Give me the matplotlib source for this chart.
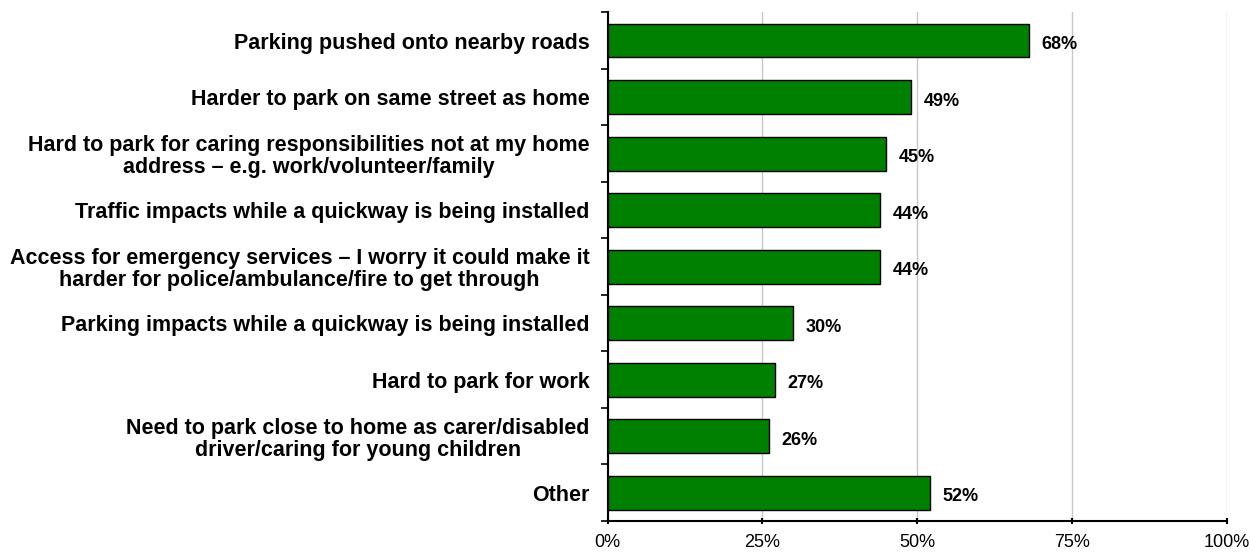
import numpy as np
import matplotlib
matplotlib.use("Agg")
import matplotlib.pyplot as plt
from matplotlib.ticker import FixedLocator, PercentFormatter

plt.rcParams["font.family"] = ["Liberation Sans", "DejaVu Sans"]

# 응답 항목 / 비율
categories = [
    "Parking pushed onto nearby roads",
    "Harder to park on same street as home",
    "Hard to park for caring responsibilities not at my home\naddress \u2013 e.g. work/volunteer/family",
    "Traffic impacts while a quickway is being installed",
    "Access for emergency services \u2013 I worry it could make it\nharder for police/ambulance/fire to get through",
    "Parking impacts while a quickway is being installed",
    "Hard to park for work",
    "Need to park close to home as carer/disabled\ndriver/caring for young children",
    "Other",
]
values = [68, 49, 45, 44, 44, 30, 27, 26, 52]
value_labels = ["68%", "49%", "45%", "44%", "44%", "30%", "27%", "26%", "52%"]
x_ticks = [0, 25, 50, 75, 100]

fig = plt.figure(figsize=(12.5, 5.57), dpi=100)
ax = fig.add_axes([0.486, 0.0646, 0.4956, 0.9134])

y = np.arange(len(categories))
ax.barh(y, values, height=0.6, color="#008000", edgecolor="black", linewidth=1.0, zorder=3)

for yi, v, lab in zip(y, values, value_labels):
    ax.text(v + 2.0, yi + 0.07, lab, va="center", ha="left",
            fontsize=13, fontweight="bold", color="black")

ax.set_xlim(0, 100)
ax.set_ylim(len(categories) - 0.5, -0.5)
ax.set_xticks(x_ticks)
ax.xaxis.set_major_formatter(PercentFormatter(decimals=0))
ax.tick_params(axis="x", labelsize=13, length=5, width=1.5, pad=7, direction="inout")

ax.set_yticks(y)
ax.set_yticklabels(categories, fontsize=15.5, fontweight="bold", ha="right",
                   multialignment="center", linespacing=1.07)
ax.tick_params(axis="y", which="major", length=0, pad=13)
ax.yaxis.set_minor_locator(FixedLocator(np.arange(-0.5, len(categories), 1.0)))
ax.tick_params(axis="y", which="minor", length=5, width=1.2, direction="out")

ax.grid(axis="x", color="#c8c8c8", linewidth=1.0, zorder=0)
ax.spines["top"].set_visible(False)
ax.spines["right"].set_visible(False)
ax.spines["left"].set_linewidth(1.5)
ax.spines["bottom"].set_linewidth(1.5)

fig.savefig("out.png", dpi=100)
